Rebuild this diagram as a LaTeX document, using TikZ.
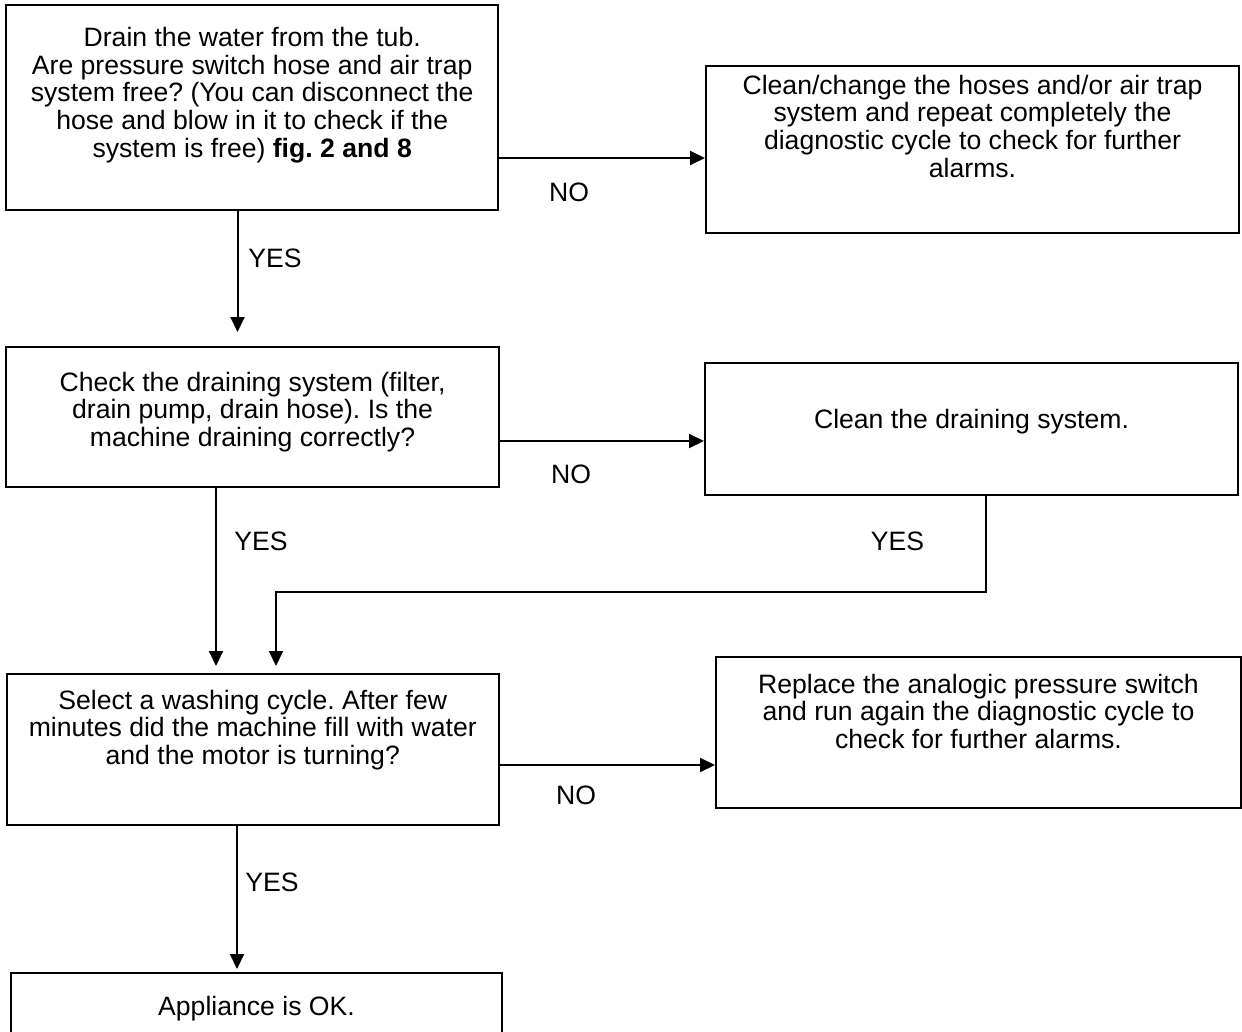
\documentclass[tikz,border=0pt]{standalone}
\usepackage{fontspec}
\setmainfont{Liberation Sans}
\usetikzlibrary{arrows.meta}
\frenchspacing

% text of a box: width, height, top to first baseline, lines
\newcommand{\boxtext}[4]{\parbox[c][#2][t]{#1}{\centering\rule{0pt}{#3}#4}}

\begin{document}
\begin{tikzpicture}[x=0.5pt, y=-0.5pt, line width=1pt,
    >={Triangle[length=7.5pt, width=7pt]},
    stepbox/.style={draw, inner sep=0pt, font=\fontsize{13.3pt}{13.8pt}\selectfont},
    answer/.style={inner sep=0pt, font=\fontsize{13.3pt}{13.8pt}\selectfont}]
    % 1. Page
    \clip (0,0) rectangle (1242,1032);
    \fill[white] (0,0) rectangle (1242,1032);

    % 2. Boxes
    \node[stepbox] (drain) at (252.2,107.5) {\boxtext{246pt}{102.5pt}{20.85pt}{Drain the water from the tub.\\
        Are pressure switch hose and air trap\\ system free? (You can disconnect the\\
        hose and blow in it to check if the\\ system is free) \textbf{fig. 2 and 8}}};
    \node[stepbox] (hoses) at (972.5,149.5) {\boxtext{266.5pt}{83.5pt}{14.15pt}{Clean/change the hoses and/or air trap\\
        system and repeat completely the\\ diagnostic cycle to check for further\\ alarms.}};
    \node[stepbox] (check) at (252.5,417) {\boxtext{246.5pt}{70pt}{22pt}{Check the draining system (filter,\\
        drain pump, drain hose). Is the\\ machine draining correctly?}};
    \node[stepbox] (clean) at (971.5,429) {\boxtext{266.5pt}{66pt}{32.5pt}{Clean the draining system.}};
    \node[stepbox] (wash) at (252.75,749.5) {\boxtext{246.25pt}{75.5pt}{17.65pt}{Select a washing cycle. After few\\
        minutes did the machine fill with water\\ and the motor is turning?}};
    \node[stepbox] (replace) at (978.5,732.5) {\boxtext{262.5pt}{75.5pt}{18pt}{Replace the analogic pressure switch\\
        and run again the diagnostic cycle to\\ check for further alarms.}};
    \node[stepbox] (ok) at (256.5,1016.5) {\boxtext{245.5pt}{43.5pt}{21pt}{Appliance is OK.}};

    % 3. Answers
    \node[answer] (no1) at (569,192) {NO};
    \node[answer] (yes1) at (275,258) {YES};
    \node[answer] (no2) at (571,474) {NO};
    \node[answer] (yes2) at (261,541) {YES};
    \node[answer] (yes3) at (897.5,541) {YES};
    \node[answer] (no3) at (576,795) {NO};
    \node[answer] (yes4) at (272,882) {YES};

    % 4. Arrows
    \coordinate (bend) at (986,592);
    \draw[->] (drain.east |- 0,158) -- (hoses.west |- 0,158);
    \draw[->, shorten >=7pt] (drain.south -| 237.5,0) -- (check.north -| 237.5,0);
    \draw[->] (check.east |- 0,441) -- (clean.west |- 0,441);
    \draw[->, shorten >=3.5pt] (check.south -| 216,0) -- (wash.north -| 216,0);
    \draw[->, shorten >=3.5pt] (clean.south -| bend) -- (bend) -| (wash.north -| 276,0);
    \draw[->] (wash.east |- 0,765) -- (replace.west |- 0,765);
    \draw[->, shorten >=1.5pt] (wash.south -| 237,0) -- (ok.north -| 237,0);
\end{tikzpicture}
\end{document}
